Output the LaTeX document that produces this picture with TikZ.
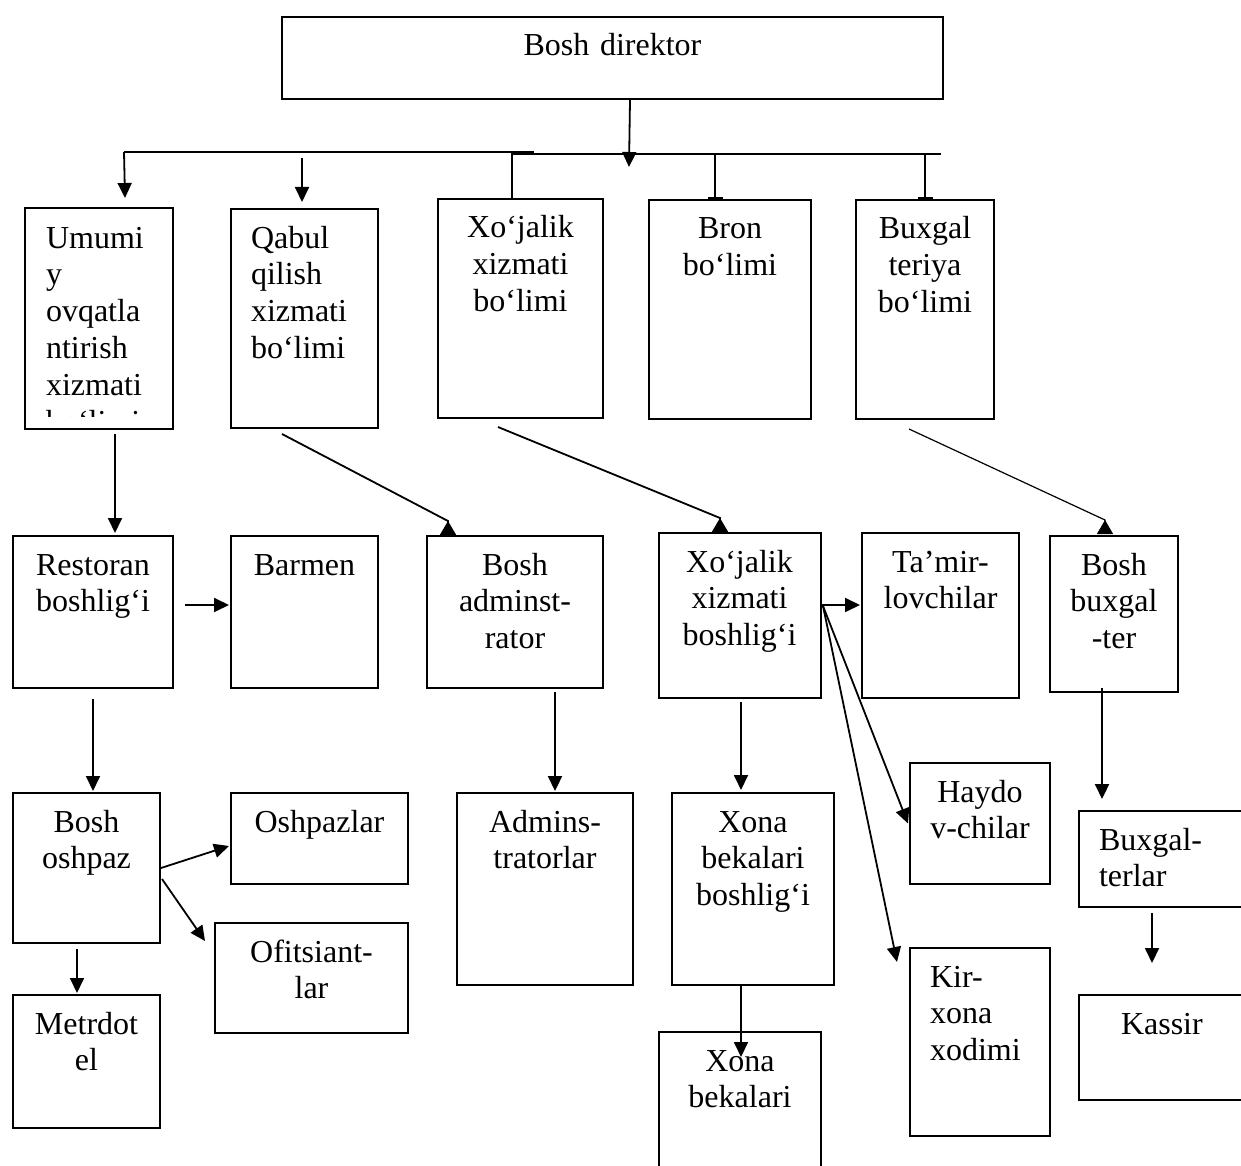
\documentclass[tikz,border=0pt]{standalone}
\usepackage{fontspec}
\setmainfont{Liberation Serif}
\usetikzlibrary{arrows.meta,calc}

\begin{document}
\begin{tikzpicture}[x=1pt,y=1pt,yscale=-1,
  box/.style={draw, line width=2pt, inner sep=0pt, anchor=north west, align=center, text height=39pt, font=\fontsize{32}{36.8}\selectfont},
  lbox/.style={box, align=left, inner xsep=20pt},
  line/.style={line width=1.8pt},
  arr/.style={line, -{Triangle[length=15pt,width=14pt]}},
  revarr/.style={line, -{Triangle[reversed,length=14pt,width=16pt]}}]
\useasboundingbox (0,0) rectangle (1241,1166);

%Shape: Rectangle (top)
\node[box, text width=661pt, text depth=43pt] (dir) at (281,16) {Bosh direktor};

%Shape: Rectangle (first row)
\begin{scope}
\clip (20,200) rectangle (180,416);
\node[lbox, draw=none, text width=106pt, text depth=180pt] (umumi) at (25,208) {Umumi\\y\\ovqatla\\ntirish\\xizmati\\bo‘limi};
\end{scope}
\draw[line width=2pt] (umumi.north west) rectangle (umumi.south east);
\node[lbox, text width=107pt, text depth=180pt] (qabul) at (230,208) {Qabul\\qilish\\xizmati\\bo‘limi};
\node[box, text width=165pt, text depth=180pt] (xojbol) at (437,198) {Xo‘jalik\\xizmati\\bo‘limi};
\node[box, text width=162pt, text depth=180pt] (bron) at (648,199) {Bron\\bo‘limi};
\node[box, text width=138pt, text depth=180pt] (buxbol) at (855,199) {Buxgal\\teriya\\bo‘limi};

%Shape: Rectangle (second row)
\node[box, text width=160pt, text depth=113pt] (restoran) at (12,535) {Restoran\\boshlig‘i};
\node[box, text width=147pt, text depth=113pt] (barmen) at (230,535) {Barmen};
\node[box, text width=176pt, text depth=113pt] (boshadm) at (426,535) {Bosh\\adminst-\\rator};
\node[box, text width=162pt, text depth=126pt] (xojbosh) at (657.5,532) {Xo‘jalik\\xizmati\\boshlig‘i};
\node[box, text width=157pt, text depth=126pt] (tamir) at (861,532) {Ta’mir-\\lovchilar};
\node[box, text width=128pt, text depth=117pt] (boshbux) at (1049,535) {Bosh\\buxgal\\-ter};

%Shape: Rectangle (third row)
\node[box, text width=147pt, text depth=111pt] (boshosh) at (12,792) {Bosh\\oshpaz};
\node[box, text width=177pt, text depth=52pt] (oshpaz) at (230,792) {Oshpazlar};
\node[box, text width=193pt, text depth=71pt] (ofits) at (214,922) {Ofitsiant-\\lar};
\node[box, text width=147pt, text depth=94pt] (metr) at (12,994) {Metrdot\\el};
\node[box, text width=176pt, text depth=153pt] (adminlar) at (456,792) {Admins-\\tratorlar};
\node[box, text width=162pt, text depth=153pt] (xonabosh) at (671,792) {Xona\\bekalari\\boshlig‘i};
\node[box, text width=162pt, text depth=150pt] (xona) at (658,1031) {Xona\\bekalari};
\node[box, text width=140pt, text depth=82pt] (haydo) at (909,762) {Haydo\\v-chilar};
\node[lbox, text width=100pt, text depth=149pt] (kir) at (909,947) {Kir-\\xona\\xodimi};
\node[lbox, text width=132pt, text depth=57pt] (buxlar) at (1078,810) {Buxgal-\\terlar};
\node[lbox, inner xsep=42pt, text width=88pt, text depth=66pt] (kassir) at (1078,994) {Kassir};

%Straight Lines (bus)
\coordinate (busA) at (124,152);
\coordinate (busB) at (533,154);
\coordinate (busR) at (941,154);
\coordinate (hub) at (629,167);
\draw[line] (busA) -| (busB) -- (busR);
\draw[arr] ($(dir.south)+(17.5,0)$) -- (hub);
\draw[arr] (busA) -- ($(umumi.north)+(26,-10)$);
\draw[arr] ($(qabul.north)+(-2.5,-50)$) -- ($(qabul.north)+(-2.5,-6)$);
\draw[line] ($(xojbol.north)+(-8.5,0)$) |- (busR);
\draw[line, {Bar[width=15pt]}-] ($(bron.north)+(-15,0)$) |- (busR);
\draw[line, {Bar[width=15pt]}-] (buxbol.north) |- (busR);

%Straight Lines (first row to second row)
\draw[arr] ($(umumi.south)+(16,5)$) -- ($(restoran.north)+(22,-2)$);
\draw[arr] ($(restoran.east)+(11,-7)$) -- ($(barmen.west)+(-1,-7)$);
\draw[revarr] ($(qabul.south)+(-22.5,5)$) -- ($(boshadm.north)+(-67,-14)$) -- ($(boshadm.north)+(-67,0)$);
\draw[revarr] ($(xojbol.south)+(-22.5,8)$) -- ($(xojbosh.north)+(-19.5,-14)$) -- ($(xojbosh.north)+(-19.5,0)$);
\draw[revarr, line width=1.2pt] ($(buxbol.south)+(-16,9)$) -- ($(boshbux.north)+(-9,-15)$) -- ($(boshbux.north)+(-9,-1)$);
\draw[arr] ($(xojbosh.east)+(0.5,-10.5)$) -- ($(tamir.west)+(-1,-10.5)$);

%Straight Lines (second row to third row)
\draw[arr] ($(xojbosh.east)+(1.5,-9.5)$) -- ($(haydo.west)+(-1,0)$);
\draw[arr] ($(xojbosh.east)+(1.5,-9.5)$) -- ($(kir.north west)+(-12,15)$);
\draw[arr] ($(xojbosh.south)+(1.5,3)$) -- ($(xonabosh.north)+(-12,-2)$);
\draw[arr, line width=2.2pt] ($(boshbux.south)+(-12,-5)$) -- ($(buxlar.north)+(-63,-11)$);
\draw[arr] ($(restoran.south)+(0,10)$) -- ($(boshosh.north)+(6.5,-1)$);
\draw[arr, line width=2.2pt] ($(boshadm.south)+(40,3)$) -- ($(adminlar.north)+(10,-1)$);

%Straight Lines (third row)
\draw[arr] (boshosh.east) -- ($(oshpaz.west)+(-1,7.5)$);
\draw[arr] ($(boshosh.east)+(1,11)$) -- ($(ofits.west)+(-9,-37)$);
\draw[arr] ($(boshosh.south)+(-9.5,5)$) -- ($(metr.north)+(-9.5,-1)$);
\draw[arr] ($(xonabosh.south)+(-12,0)$) -- ($(xona.north)+(1,26)$);
\draw[arr] ($(buxlar.south)+(-13,5)$) -- ($(kassir.north)+(-13,-31)$);

\end{tikzpicture}
\end{document}
